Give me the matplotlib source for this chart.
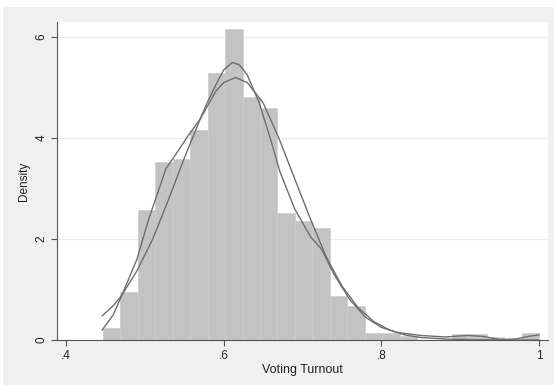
import matplotlib
matplotlib.use("Agg")
import matplotlib.pyplot as plt
from matplotlib.patches import Rectangle

plt.rcParams['font.family'] = ['Liberation Sans', 'DejaVu Sans']

# histogram bins (density), 25 bins from .447 to 1.0
bin_start = 0.447
bin_width = 0.02212
heights = [0.24, 0.95, 2.57, 3.52, 3.58, 4.16, 5.29, 6.16, 4.81, 4.60,
           2.51, 2.36, 2.22, 0.87, 0.67, 0.14, 0.14, 0.07, 0.0, 0.0,
           0.12, 0.12, 0.06, 0.0, 0.14]

# normal density overlay
norm_x = [0.446, 0.46, 0.47, 0.49, 0.51, 0.53, 0.55, 0.57, 0.59, 0.60, 0.615,
          0.63, 0.65, 0.67, 0.69, 0.71, 0.73, 0.75, 0.77, 0.79, 0.81, 0.83,
          0.85, 0.88, 0.92, 0.96, 1.0]
norm_y = [0.48, 0.68, 0.87, 1.37, 2.0, 2.78, 3.6, 4.37, 4.93, 5.1, 5.2,
          5.1, 4.7, 4.0, 3.2, 2.4, 1.65, 1.07, 0.65, 0.37, 0.2, 0.1,
          0.05, 0.02, 0.005, 0.0, 0.0]

# kernel density overlay
kd_x = [0.446, 0.46, 0.472, 0.49, 0.505, 0.527, 0.542, 0.555, 0.57, 0.58,
        0.59, 0.60, 0.611, 0.62, 0.63, 0.645, 0.66, 0.671, 0.69, 0.71,
        0.724, 0.74, 0.76, 0.78, 0.80, 0.82, 0.85, 0.88, 0.91, 0.93,
        0.95, 0.97, 0.99, 1.0]
kd_y = [0.2, 0.5, 0.93, 1.6, 2.4, 3.4, 3.74, 4.05, 4.37, 4.73,
        5.05, 5.35, 5.5, 5.45, 5.25, 4.7, 3.95, 3.35, 2.6, 2.05,
        1.8, 1.3, 0.8, 0.45, 0.25, 0.15, 0.09, 0.06, 0.09, 0.07,
        0.01, 0.02, 0.08, 0.1]

xticks = [0.4, 0.6, 0.8, 1.0]
xtick_labels = ['.4', '.6', '.8', '1']
yticks = [0, 2, 4, 6]

fig = plt.figure(figsize=(5.54, 3.85), dpi=100, facecolor='white')
fig.patches.append(Rectangle((3 / 554, 0), 1, 1 - 7 / 385,
                             transform=fig.transFigure, facecolor='#f0f0f0',
                             edgecolor='none', zorder=-5))
ax = fig.add_axes([57 / 554, 1 - 340 / 385, (548 - 57) / 554, (340 - 22) / 385])
ax.set_facecolor('white')

lefts = [bin_start + i * bin_width for i in range(len(heights))]
ax.bar(lefts, heights, width=bin_width, align='edge', color='#c3c3c3',
       edgecolor='#cdcdcd', linewidth=0.5, zorder=2)
ax.plot(norm_x, norm_y, color='#6e6e6e', lw=1.0, zorder=3)
ax.plot(kd_x, kd_y, color='#6e6e6e', lw=1.0, zorder=3)

ax.set_xlim(0.3886, 1.0114)
ax.set_ylim(0, 6.3)
ax.set_xticks(xticks)
ax.set_xticklabels(xtick_labels)
ax.set_yticks(yticks)
ax.set_yticklabels([str(v) for v in yticks], rotation=90, va='center')
ax.yaxis.grid(True, color='#ececec', lw=0.8, zorder=0)
ax.set_axisbelow(True)

for s in ['top', 'right']:
    ax.spines[s].set_visible(False)
for s in ['left', 'bottom']:
    ax.spines[s].set_color('#555555')
    ax.spines[s].set_linewidth(0.8)
ax.tick_params(axis='both', direction='out', length=4, width=0.8,
               color='#555555', labelsize=8.5, labelcolor='#222222', pad=3)

ax.set_xlabel('Voting Turnout', fontsize=9, color='#222222', labelpad=2)
ax.set_ylabel('Density', fontsize=8.5, color='#222222', labelpad=4)

fig.savefig('out.png', dpi=100, facecolor=fig.get_facecolor())
